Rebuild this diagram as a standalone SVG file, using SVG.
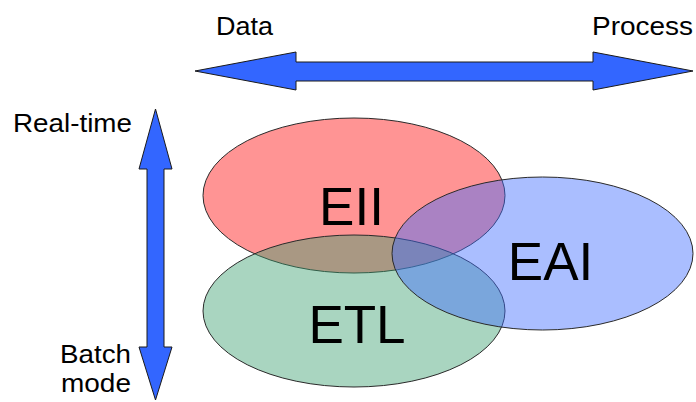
<svg xmlns="http://www.w3.org/2000/svg" width="696" height="402" viewBox="0 0 696 402">
<style>
.arrow{fill:#3366ff;stroke:#1a1a1a;stroke-width:1}
.lbl{font-family:"Liberation Sans",Arial,sans-serif;font-size:25px;fill:#000}
.big{font-family:"Liberation Sans",Arial,sans-serif;font-size:53px;fill:#000;text-anchor:middle}
.ell{stroke:#2a2a2a;stroke-width:1}
</style>
<rect width="696" height="402" fill="#ffffff"/>
<g id="connectors">
<polygon class="arrow" points="195,71 296,52 296,62 593,62 593,52 693,71 593,90 593,81 296,81 296,90"/>
<polygon class="arrow" points="155.5,109 172,169 164,169 164,347 172,347 155.5,400 139,347 147,347 147,169 139,169"/>
</g>
<g id="axis-labels">
<text class="lbl" x="216" y="35" textLength="57" lengthAdjust="spacingAndGlyphs">Data</text>
<text class="lbl" x="592" y="35" textLength="101" lengthAdjust="spacingAndGlyphs">Process</text>
<text class="lbl" x="13" y="132" textLength="119" lengthAdjust="spacingAndGlyphs">Real-time</text>
<text class="lbl" x="60" y="363" textLength="71" lengthAdjust="spacingAndGlyphs">Batch</text>
<text class="lbl" x="61" y="392" textLength="70" lengthAdjust="spacingAndGlyphs">mode</text>
</g>
<g id="EII">
<ellipse class="ell" cx="354" cy="195.5" rx="151" ry="77.5" fill="#ff0000" fill-opacity="0.42"/>
</g>
<g id="ETL">
<ellipse class="ell" cx="354" cy="311" rx="151" ry="76" fill="#399f6e" fill-opacity="0.435"/>
</g>
<g id="EAI">
<ellipse class="ell" cx="542.5" cy="253.5" rx="150.5" ry="76.5" fill="#406dff" fill-opacity="0.445"/>
</g>
<g id="labels">
<text class="big" x="351.5" y="225">EII</text>
<text class="big" x="357" y="343">ETL</text>
<text class="big" x="550.5" y="280">EAI</text>
</g>
</svg>
